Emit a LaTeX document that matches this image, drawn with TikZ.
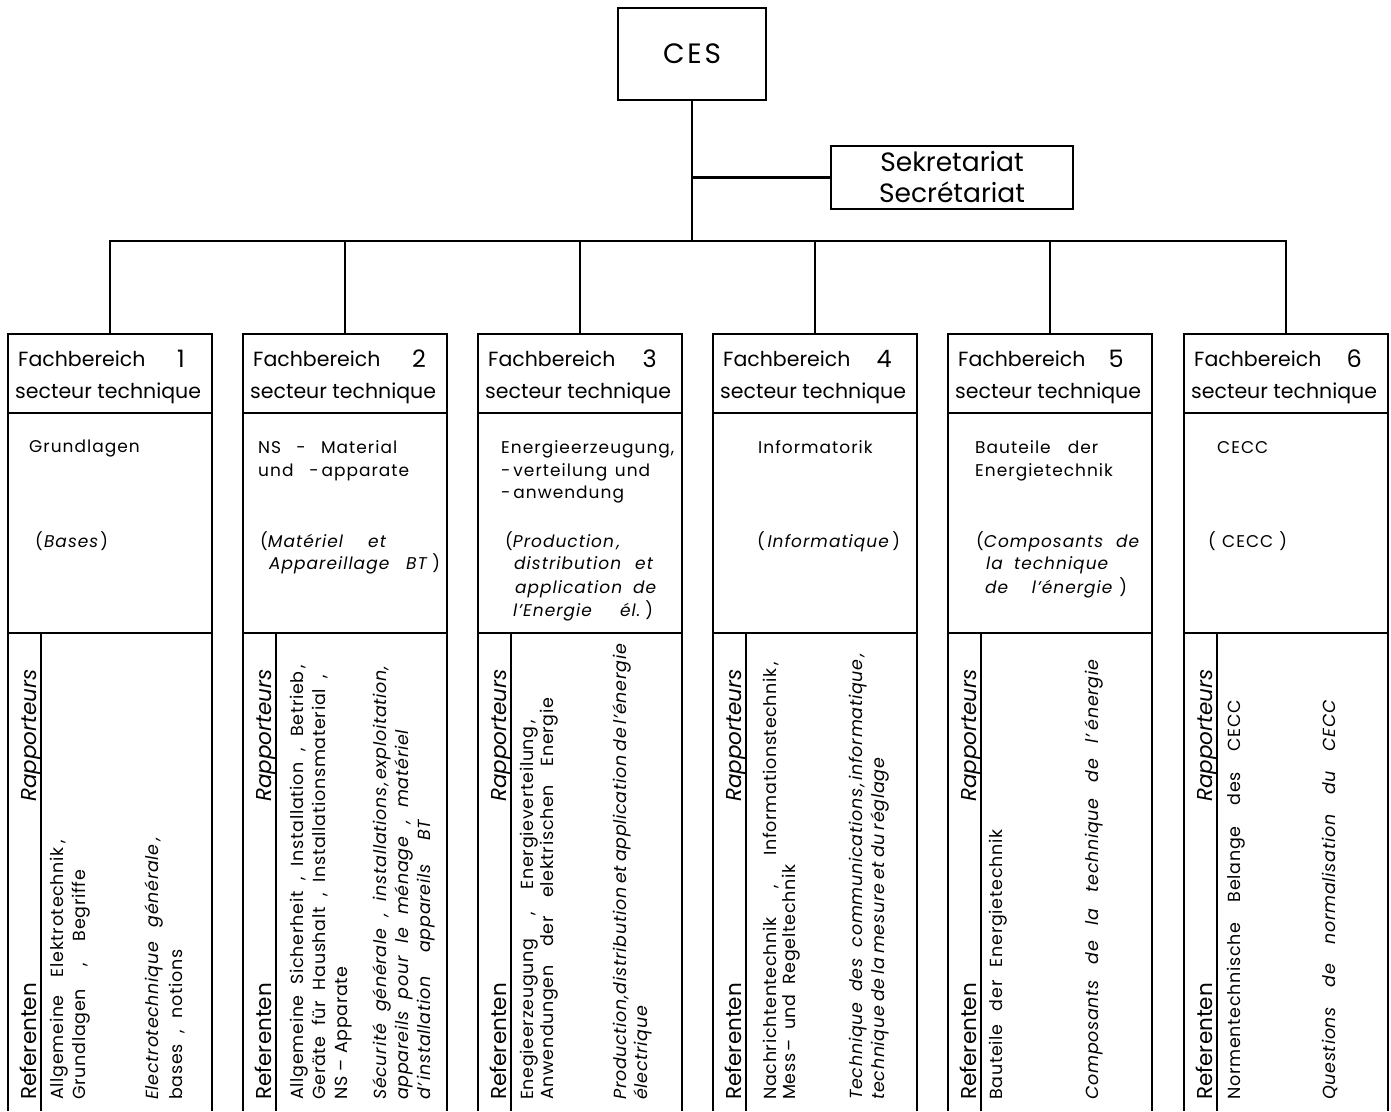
\documentclass[tikz,border=0pt]{standalone}
\usepackage{fontspec}
\setmainfont{Poppins}
\tikzset{
  ln/.style={line width=2.5pt},
  bx/.style={draw, line width=2.5pt, rectangle, inner sep=0pt, outer sep=0pt},
  hdr/.style={font=\fontsize{20.5}{25}\selectfont, inner sep=0pt},
  mid/.style={font=\fontsize{17}{20}\selectfont\addfontfeature{LetterSpace=6}, inner sep=0pt, anchor=base west},
  rot/.style={font=\fontsize{17.5}{20}\selectfont\addfontfeature{LetterSpace=4}, inner sep=0pt, anchor=base west, rotate=90},
  rhd/.style={font=\fontsize{21.5}{25}\selectfont, inner sep=0pt, anchor=base west, rotate=90},
}
\newcommand\ml[4]{\node[mid] at (#1,#2) {\makebox[#3pt][s]{#4}};}
\newcommand\rl[4]{\node[rot] at (#1,#2) {\makebox[#3pt][s]{#4}};}
\newcommand\rn[3]{\node[rot] at (#1,#2) {#3};}
\begin{document}
\begin{tikzpicture}[x=1pt,y=-1pt]
\useasboundingbox[fill=white] (0,0) rectangle (1391,1111);
% top
\node[bx, minimum width=148pt, minimum height=92pt, font=\fontsize{28}{32}\selectfont\addfontfeature{LetterSpace=10}] (ces) at (692,54) {CES};
\node[bx, minimum width=242pt, minimum height=63pt, align=center, font=\fontsize{26.5}{31}\selectfont] (sek) at (952,177.5) {Sekretariat\\Secrétariat};
\coordinate (j) at (692,241);
% columns
\foreach \i/\lx/\nb/\nx in {1/8/1/177, 2/243/2/183, 3/478/3/179, 4/713/4/179, 5/948/5/176, 6/1184/6/178} {
  \node[bx, minimum width=204pt, minimum height=79pt, anchor=north west] (h\i) at (\lx,334) {};
  \node[bx, minimum width=204pt, minimum height=220pt, anchor=north] (m\i) at (h\i.south) {};
  \node[hdr, anchor=base west] (f\i) at (\lx+10,366) {Fachbereich};
  \node[hdr, anchor=base east, font=\fontsize{24}{28}\selectfont] (n\i) at (\lx+\nx,367) {\nb};
  \node[hdr, anchor=base west] (s\i) at (\lx+7,398) {secteur technique};
  \coordinate (bl\i) at (\lx,1111);
  \coordinate (br\i) at (\lx+204,1111);
  \coordinate (dt\i) at (\lx+33,633);
  \coordinate (db\i) at (\lx+33,1111);
  \draw[ln] (m\i.south west) -- (bl\i);
  \draw[ln] (m\i.south east) -- (br\i);
  \draw[ln] (dt\i) -- (db\i);
  \node[rhd] (ref\i) at (\lx+28,1100) {Referenten};
  \node[rhd] (rap\i) at (\lx+28,802) {\itshape Rapporteurs};
}
% connectors
\draw[ln] (ces.south) -- (j);
\draw[ln] (sek.west) -- (sek.west -| j);
\draw[ln] (h1.north) |- (j) -| (h6.north);
\foreach \i in {2,...,5} \draw[ln] (h\i.north) -- (h\i.north |- j);
% middle texts
\ml{29}{452}{108}{Grundlagen}
\ml{35}{547}{73}{(\hfill\textit{Bases}\hfill)}
\ml{258}{453}{139}{NS\hfill-\hfill Material}
\ml{258}{476}{151}{und\hfill-\,apparate}
\ml{260}{547}{127}{(\textit{Matériel\hfill et}}
\ml{269}{569}{171}{\textit{Appareillage\hfill BT}\kern4pt)}
\ml{501}{453}{166}{Energieerzeugung\kern1pt,}
\ml{501}{476}{149}{-\,verteilung\hfill und}
\ml{501}{498}{113}{-\,anwendung}
\ml{505}{547}{113}{(\textit{Production\kern3pt,}}
\ml{514}{569}{140}{\textit{distribution\hfill et}}
\ml{515}{593}{142}{\textit{application\hfill de}}
\ml{513}{616}{140}{\textit{l'Energie\hfill él.}\kern4pt)}
\ml{758}{453}{114}{Informatorik}
\ml{757}{547}{143}{(\hfill\textit{Informatique}\hfill)}
\ml{975}{453}{123}{Bauteile\hfill der}
\ml{975}{476}{129}{Energietechnik}
\ml{976}{547}{164}{(\textit{Composants\hfill de}}
\ml{986}{569}{123}{\textit{la\hfill technique}}
\ml{985}{593}{142}{\textit{de\hfill l'énergie}\kern6pt)}
\ml{1217}{453}{55}{CECC}
\ml{1208}{547}{79}{(\hfill CECC\hfill)}
% lower texts
\rl{63}{1100}{260}{Allgemeine\hfill Elektrotechnik\kern4pt,}
\rl{85}{1100}{230}{Grundlagen\hfill,\hfill Begriffe}
\rl{158}{1100}{263}{\itshape Electrotechnique\hfill générale\kern4pt,}
\rl{182}{1100}{150}{bases\hfill,\hfill notions}
\rl{303}{1100}{435}{Allgemeine\hfill Sicherheit\hfill,\hfill Installation\hfill,\hfill Betrieb\kern3pt,}
\rl{325}{1100}{425}{Geräte\hfill für\hfill Haushalt\hfill,\hfill Installationsmaterial\hfill,}
\rn{347}{1100}{NS -- Apparate}
\rl{386}{1100}{434}{\itshape Sécurité\hfill générale\hfill,\hfill installations\kern2pt,\kern2pt exploitation,}
\rl{408}{1100}{370}{\itshape appareils\hfill pour\hfill le\hfill ménage\hfill,\hfill matériel}
\rl{430}{1100}{280}{\itshape d'\kern3pt installation\hfill appareils\hfill BT}
\rl{533}{1100}{380}{Enegieerzeugung\hfill,\hfill Energieverteilung\kern3pt,}
\rl{553}{1100}{402}{Anwendungen\hfill der\hfill elektrischen\hfill Energie}
\rl{626}{1100}{450}{\itshape Production,distribution et application de l'énergie}
\rn{647}{1100}{\itshape électrique}
\rl{776}{1100}{438}{Nachrichtentechnik\hfill,\hfill Informationstechnik\kern3pt,}
\rl{795}{1100}{235}{Mess\kern2pt--\hfill und\hfill Regeltechnik}
\rl{862}{1100}{447}{\itshape Technique\hfill des\hfill communications\kern2pt,\kern3pt informatique\kern3pt,}
\rl{884}{1100}{293}{\itshape technique de la mesure et du réglage}
\rl{1002}{1100}{270}{Bauteile\hfill der\hfill Energietechnik}
\rl{1098}{1100}{440}{\itshape Composants\hfill de\hfill la\hfill technique\hfill de\hfill l'\kern4pt énergie}
\rl{1240}{1100}{400}{Normentechnische\hfill Belange\hfill des\hfill CECC}
\rl{1335}{1100}{400}{\itshape Questions\hfill de\hfill normalisation\hfill du\hfill CECC}
\end{tikzpicture}
\end{document}
